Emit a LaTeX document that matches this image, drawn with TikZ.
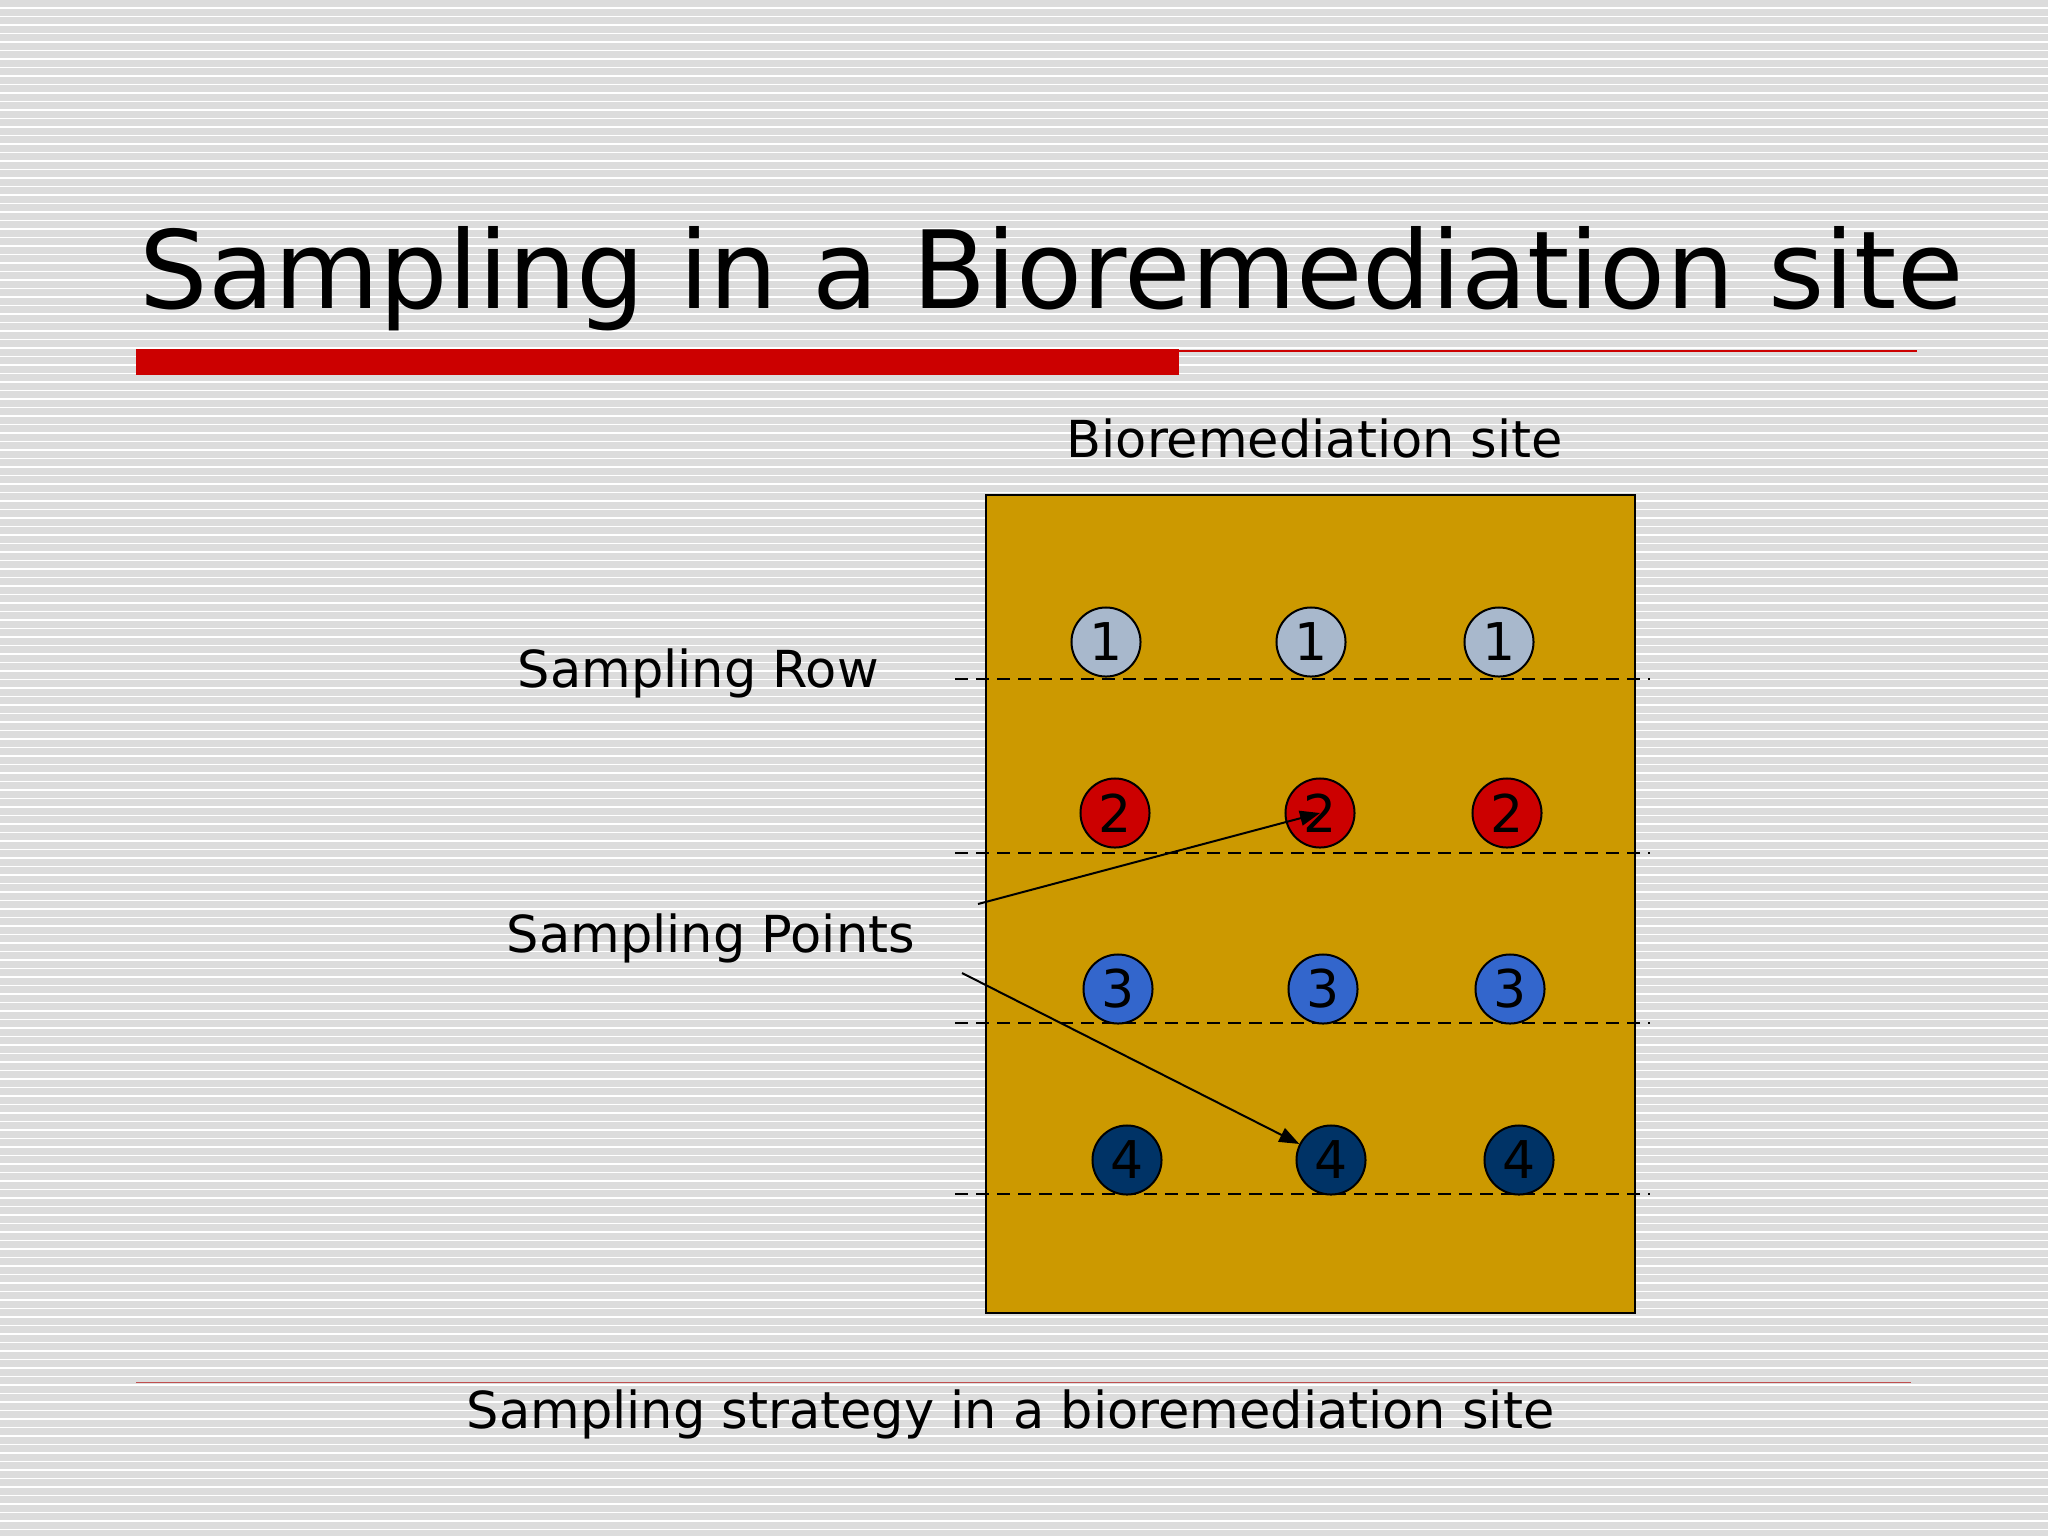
\documentclass[tikz,border=0pt]{standalone}
\usepackage{xcolor}
\usepackage{fontspec}
\setmainfont{DejaVu Sans}
\usepackage{tikz}
\usetikzlibrary{arrows.meta, positioning}

\definecolor{slidegray}{RGB}{220,220,220}
\definecolor{barred}{RGB}{204,0,0}
\definecolor{rulered}{RGB}{192,80,80}
\definecolor{sitefill}{RGB}{204,153,0}
\definecolor{rowone}{RGB}{168,184,204}
\definecolor{rowtwo}{RGB}{204,0,0}
\definecolor{rowthree}{RGB}{51,102,204}
\definecolor{rowfour}{RGB}{0,51,102}

\tikzset{
    label/.style={inner sep=0, anchor=base west, font=\fontsize{14.5pt}{17pt}\selectfont},
    pt/.style={circle, draw=black, line width=0.02cm, minimum size=0.69cm, inner sep=0,
               font=\fontsize{14.8pt}{17pt}\selectfont},
    rowline/.style={black, line width=0.022cm, dash pattern=on 0.13cm off 0.08cm},
    pointer/.style={black, line width=0.02cm, -{Triangle[length=0.2cm, width=0.15cm]}}
}

\begin{document}
\begin{tikzpicture}[x=0.01cm, y=-0.01cm]
                    \useasboundingbox (0,0) rectangle (2048,1536);
                    % Background stripes
                    \fill[slidegray] (0,0) rectangle (2048,1536);
                    \foreach \k in {0,...,180}
                        \draw[white, line width=0.015cm] (0,{8+\k*8.5}) -- (2048,{8+\k*8.5});
                    % Title and rules
                    \node[label, font=\fontsize{30.7pt}{36pt}\selectfont] (title) at (139,308) {Sampling in a Bioremediation site};
                    \fill[barred] (136,349) rectangle (1179,375);
                    \draw[barred, line width=0.02cm] (1179,351) -- (1917,351);
                    \draw[rulered, line width=0.01cm] (136,1382) -- (1911,1382);
                    % Site
                    \node[label] (sitelabel) at (1066,457) {Bioremediation site};
                    \draw[fill=sitefill, draw=black, line width=0.015cm] (986,495) rectangle (1635,1313);
                    % Rows
                    \draw[rowline] (955,679) -- (1650,679);
                    \draw[rowline] (955,853) -- (1650,853);
                    \draw[rowline] (955,1023) -- (1650,1023);
                    \draw[rowline] (955,1194) -- (1650,1194);
                    % Sampling points
                    \node[pt, fill=rowone] (p11) at (1106,642) {1};
                    \node[pt, fill=rowone] (p12) at (1311,642) {1};
                    \node[pt, fill=rowone] (p13) at (1499,642) {1};
                    \node[pt, fill=rowtwo] (p21) at (1115,813) {2};
                    \node[pt, fill=rowtwo] (p22) at (1320,813) {2};
                    \node[pt, fill=rowtwo] (p23) at (1507,813) {2};
                    \node[pt, fill=rowthree] (p31) at (1118,989) {3};
                    \node[pt, fill=rowthree] (p32) at (1323,989) {3};
                    \node[pt, fill=rowthree] (p33) at (1510,989) {3};
                    \node[pt, fill=rowfour] (p41) at (1127,1160) {4};
                    \node[pt, fill=rowfour] (p42) at (1331,1160) {4};
                    \node[pt, fill=rowfour] (p43) at (1519,1160) {4};
                    % Labels
                    \node[label] (rowlabel) at (517,687) {Sampling Row};
                    \node[label] (pointslabel) at (506,952) {Sampling Points};
                    \coordinate (uptail) at (978,904);
                    \coordinate (downtail) at (962,973);
                    \draw[pointer] (uptail) -- (p22.center);
                    \draw[pointer] (downtail) -- (p42);
                    % Caption
                    \node[label] (caption) at (466,1428) {Sampling strategy in a bioremediation site};
                \end{tikzpicture}
\end{document}
